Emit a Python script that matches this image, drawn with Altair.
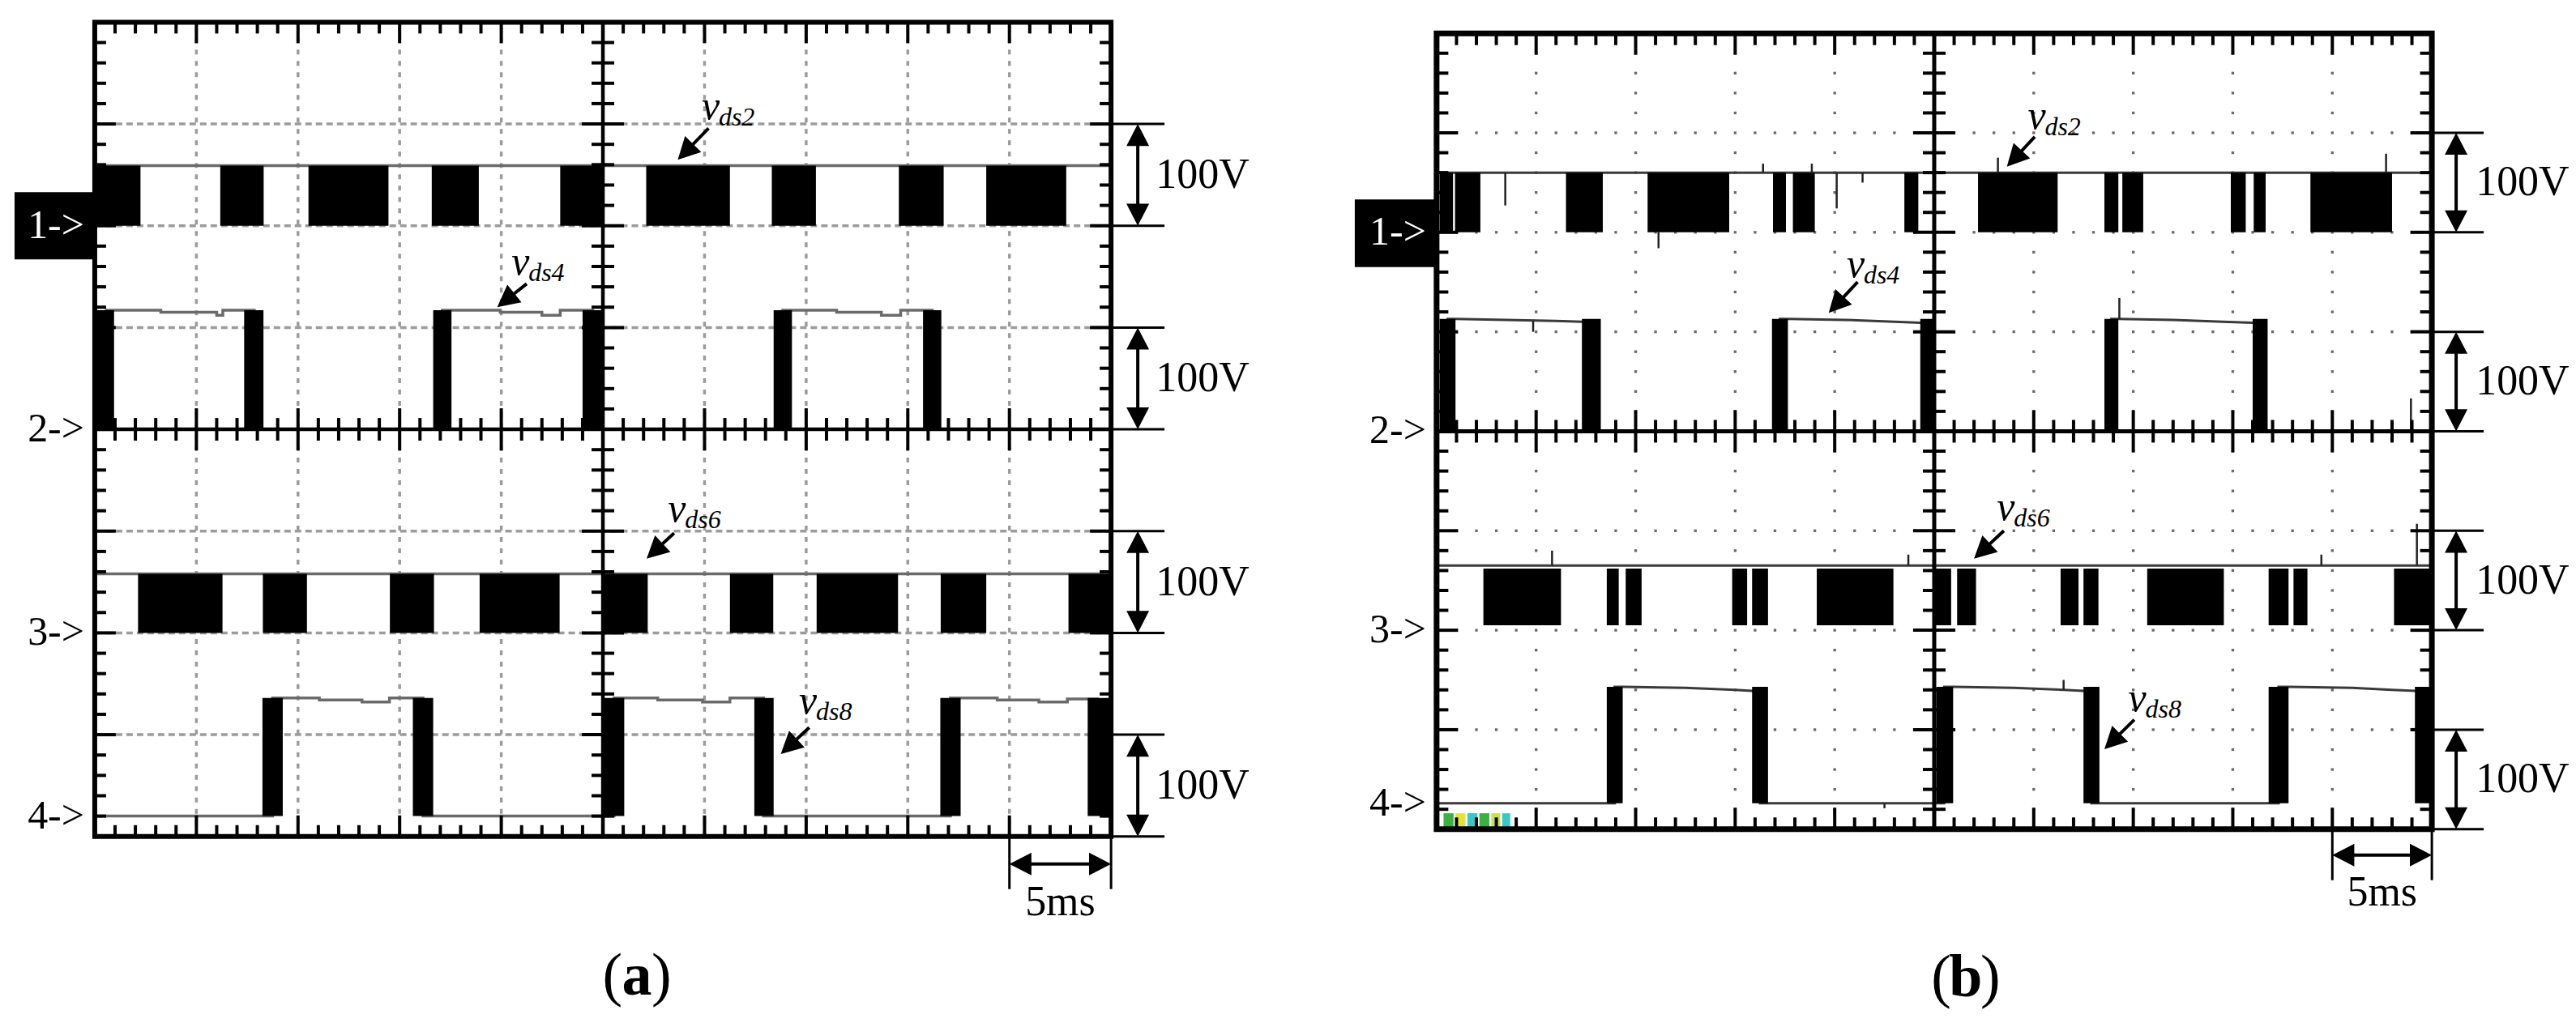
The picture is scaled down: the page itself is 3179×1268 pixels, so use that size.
import math
import altair as alt
import pandas as pd

FONT = "Liberation Serif"
ARROW_HEAD = "M0,0L-0.8,1.55L0.8,1.55Z"   # custom symbol, tip on the anchor point

# ---------------- common screen content (divisions: 5 ms/div, 100 V/div) ----------------
BRACKETS = [(6, 7), (4, 5), (2, 3), (0, 1)]
CH_NAMES = ["1->", "2->", "3->", "4->"]
VOLT_TEXT = "100V"
TIME_TEXT = "5ms"
TAG_SUBS = ["ds2", "ds4", "ds6", "ds8"]

# ---------------- panel (a): simulation ----------------
A_GROUND = [6.0, 4.0, 2.0, 0.2]
A_CH1_LOW, A_CH1_HIGH = 6.0, 6.59
A_CH1_BLOCKS = [(0.00, 0.45), (1.235, 1.662), (2.103, 2.89), (3.316, 3.779), (4.58, 5.007),
                (5.426, 6.25), (6.662, 7.096), (7.912, 8.353), (8.772, 9.559)]
A_CH3_LOW, A_CH3_HIGH = 2.0, 2.58
A_CH3_BLOCKS = [(0.426, 1.257), (1.654, 2.088), (2.904, 3.338), (3.787, 4.574), (5.007, 5.441),
                (6.25, 6.676), (7.103, 7.904), (8.324, 8.772), (9.581, 10.0)]
A_CH2_LOW, A_CH2_HIGH = 4.0, 5.17
A_CH2_BARS = [(0.0, 0.19), (1.47, 1.66), (3.33, 3.51), (4.80, 4.99), (6.68, 6.86), (8.15, 8.33)]
A_CH2_X = [0.1, 0.65, 0.65, 1.20, 1.20, 1.26, 1.26, 1.57, 1.57, 3.42, 3.42, 3.99, 3.99, 4.40, 4.40,
           4.58, 4.58, 4.90, 4.90, 6.77, 6.77, 7.30, 7.30, 7.74, 7.74, 7.93, 7.93, 8.24, 8.24, 10.0]
A_CH2_Y = [5.17, 5.17, 5.15, 5.15, 5.12, 5.12, 5.17, 5.17, 4.0, 4.0, 5.17, 5.17, 5.15, 5.15, 5.12,
           5.12, 5.17, 5.17, 4.0, 4.0, 5.17, 5.17, 5.15, 5.15, 5.12, 5.12, 5.17, 5.17, 4.0, 4.0]
A_CH4_LOW, A_CH4_HIGH = 0.2, 1.36
A_CH4_BARS = [(1.65, 1.85), (3.13, 3.33), (5.01, 5.21), (6.49, 6.68), (8.32, 8.52), (9.77, 10.0)]
A_CH4_X = [0.0, 1.75, 1.75, 2.21, 2.21, 2.63, 2.63, 2.90, 2.90, 3.23, 3.23, 5.11, 5.11, 5.54, 5.54,
           5.98, 5.98, 6.25, 6.25, 6.58, 6.58, 8.42, 8.42, 8.88, 8.88, 9.29, 9.29, 9.57, 9.57, 9.88]
A_CH4_Y = [0.2, 0.2, 1.36, 1.36, 1.34, 1.34, 1.32, 1.32, 1.36, 1.36, 0.2, 0.2, 1.36, 1.36, 1.34,
           1.34, 1.32, 1.32, 1.36, 1.36, 0.2, 0.2, 1.36, 1.36, 1.34, 1.34, 1.32, 1.32, 1.35, 1.35]
A_TAG_POS = [(5.972, 7.046), (4.10, 5.52), (5.64, 3.09), (6.93, 1.21)]
A_POINTERS = [(6.04, 6.958, 5.737, 6.648), (4.25, 5.43, 3.96, 5.20),
              (5.70, 2.98, 5.43, 2.73), (7.03, 1.07, 6.75, 0.81)]

# ---------------- panel (b): experiment ----------------
B_GROUND = [6.0, 4.0, 2.0, 0.26]
B_CH1_LOW, B_CH1_HIGH = 6.0, 6.60
B_CH1_BLOCKS = [(0.03, 0.165), (0.185, 0.44), (1.30, 1.67), (2.12, 2.94), (3.38, 3.51), (3.58, 3.80),
                (4.70, 4.84), (5.44, 6.24), (6.71, 6.85), (6.89, 7.10), (7.98, 8.13), (8.21, 8.33),
                (8.78, 9.60)]
B_CH1_SPIKES = [(0.69, 6.60, 6.27), (2.23, 6.0, 5.84), (3.28, 6.60, 6.69), (3.77, 6.60, 6.69),
                (4.02, 6.60, 6.24), (4.28, 6.60, 6.50), (5.64, 6.60, 6.75), (9.54, 6.60, 6.79)]
B_CH3_LOW, B_CH3_HIGH, B_CH3_TOP = 2.05, 2.65, 2.62
B_CH3_BLOCKS = [(0.47, 1.25), (1.71, 1.83), (1.90, 2.06), (2.97, 3.12), (3.17, 3.33), (3.82, 4.59),
                (5.00, 5.17), (5.23, 5.42), (6.27, 6.45), (6.50, 6.65), (7.14, 7.91), (8.36, 8.56),
                (8.61, 8.75), (9.62, 10.0)]
B_CH3_SPIKES = [(1.16, 2.65, 2.80), (4.74, 2.65, 2.76), (8.89, 2.65, 2.76), (9.85, 2.65, 3.07)]
B_CH2_LOW, B_CH2_HIGH = 4.0, 5.13
B_CH2_BARS = [(0.03, 0.19), (1.46, 1.65), (3.37, 3.53), (4.86, 5.0), (6.71, 6.85), (8.20, 8.35)]
B_CH2_X = [0.1, 0.19, 0.7, 1.2, 1.46, 1.55, 1.55, 3.45, 3.45, 3.53, 4.1, 4.6, 4.86, 4.93, 4.93,
           6.78, 6.78, 6.85, 7.4, 7.9, 8.20, 8.27, 8.27, 10.0]
B_CH2_Y = [5.13, 5.13, 5.12, 5.11, 5.10, 5.10, 4.0, 4.0, 5.13, 5.13, 5.12, 5.10, 5.09, 5.09, 4.0,
           4.0, 5.13, 5.13, 5.12, 5.10, 5.09, 5.09, 4.0, 4.0]
B_CH2_SPIKES = [(0.97, 5.11, 5.0), (6.86, 5.13, 5.34), (9.79, 4.0, 4.33)]
B_CH4_LOW, B_CH4_HIGH = 0.26, 1.43
B_CH4_BARS = [(1.71, 1.87), (3.17, 3.33), (5.02, 5.19), (6.50, 6.66), (8.36, 8.56), (9.83, 10.0)]
B_CH4_X = [0.0, 1.79, 1.79, 1.87, 2.5, 3.0, 3.17, 3.25, 3.25, 5.10, 5.10, 5.19, 5.8, 6.3, 6.50,
           6.58, 6.58, 8.46, 8.46, 8.56, 9.2, 9.6, 9.83, 9.9]
B_CH4_Y = [0.26, 0.26, 1.43, 1.43, 1.42, 1.40, 1.39, 1.39, 0.26, 0.26, 1.43, 1.43, 1.42, 1.40, 1.39,
           1.39, 0.26, 0.26, 1.43, 1.43, 1.42, 1.40, 1.39, 1.39]
B_CH4_SPIKES = [(6.30, 1.40, 1.50), (4.50, 0.26, 0.21)]
B_OSD = [(0.07, 0.17, "#3cb043"), (0.19, 0.29, "#e3e33a"), (0.31, 0.41, "#3cc7c7"),
         (0.43, 0.53, "#3cb043"), (0.55, 0.64, "#c9e04a"), (0.66, 0.74, "#3cc7c7")]
B_OSD_Y = (0.02, 0.16)
B_TAG_POS = [(5.94, 7.04), (4.12, 5.55), (5.63, 3.11), (6.95, 1.185)]
B_POINTERS = [(6.01, 6.96, 5.73, 6.66), (4.23, 5.50, 3.94, 5.19),
              (5.70, 3.00, 5.40, 2.72), (7.01, 1.10, 6.71, 0.805)]

# ---------------- page geometry (pixels) ----------------
GEOM_A = dict(ox=117, oy=1033, ppx=125.5, ppy=125.75, left=8, width=1560, top=8, height=1252,
              frame_w=6, center_w=4.5, tick_w=4, line_c="#6a6a6a", line_w=3.5,
              box=(-0.789, 5.67, 6.33), label="a", label_pos=(5.335, -1.553),
              t5_tick=65, t5_arrow=34, t5_text=97, br_len=66, br_arrow=33)
GEOM_B = dict(ox=1774, oy=1024, ppx=122.9, ppy=122.9, left=1568, width=1603, top=8, height=1252,
              frame_w=7, center_w=5, tick_w=4, line_c="#3a3a3a", line_w=3,
              box=(-0.822, 5.65, 6.33), label="b", label_pos=(5.317, -1.676),
              t5_tick=63, t5_arrow=32, t5_text=94, br_len=64, br_arrow=30)


def panel(g, d):
    xdom = [(g["left"] - g["ox"]) / g["ppx"], (g["left"] + g["width"] - g["ox"]) / g["ppx"]]
    ydom = [(g["oy"] - (g["top"] + g["height"])) / g["ppy"], (g["oy"] - g["top"]) / g["ppy"]]
    xs = alt.Scale(domain=xdom, nice=False, zero=False)
    ys = alt.Scale(domain=ydom, nice=False, zero=False)
    X = lambda f="x": alt.X(f"{f}:Q", scale=xs, axis=None)
    Y = lambda f="y": alt.Y(f"{f}:Q", scale=ys, axis=None)
    px, py = g["ppx"], g["ppy"]
    layers = []

    # --- graticule ---
    if d["grid"] == "dash":
        v = pd.DataFrame([dict(x=k, x2=k, y=0, y2=8) for k in range(1, 10) if k != 5])
        h = pd.DataFrame([dict(x=0, x2=10, y=k, y2=k) for k in range(1, 8) if k != 4])
        for df, dash in ((v, [6, 8]), (h, [8, 5])):
            layers.append(alt.Chart(df).mark_rule(color="#9c9c9c", strokeWidth=3.5, strokeDash=dash)
                          .encode(x=X(), x2=alt.X2("x2"), y=Y(), y2=alt.Y2("y2")))
    else:
        pts = [dict(x=k, y=j / 5) for k in range(1, 10) if k != 5 for j in range(1, 40)]
        pts += [dict(x=j / 5, y=k) for k in range(1, 8) if k != 4 for j in range(1, 50) if j % 5]
        layers.append(alt.Chart(pd.DataFrame(pts)).mark_square(size=11, color="#6a6a6a", opacity=1)
                      .encode(x=X(), y=Y()))

    # --- on-screen-display patch ---
    if d.get("osd"):
        df = pd.DataFrame([dict(x=a, x2=b, y=d["osd_y"][0], y2=d["osd_y"][1], c=c) for a, b, c in d["osd"]])
        layers.append(alt.Chart(df).mark_rect()
                      .encode(x=X(), x2=alt.X2("x2"), y=Y(), y2=alt.Y2("y2"),
                              color=alt.Color("c:N", scale=None)))

    # --- traces: thin lines ---
    rows = []
    for gi, (xs_, ys_) in enumerate(d["lines"]):
        for i, (xv, yv) in enumerate(zip(xs_, ys_)):
            rows.append(dict(x=xv, y=yv, g=gi, i=i))
    layers.append(alt.Chart(pd.DataFrame(rows)).mark_line(color=g["line_c"], strokeWidth=g["line_w"])
                  .encode(x=X(), y=Y(), detail="g:N", order="i:Q"))

    # --- traces: black blocks / transition bars ---
    rows = []
    for blocks, lo, hi in d["blocks"]:
        rows += [dict(x=a, x2=b, y=lo, y2=hi) for a, b in blocks]
    layers.append(alt.Chart(pd.DataFrame(rows)).mark_rect(color="black")
                  .encode(x=X(), x2=alt.X2("x2"), y=Y(), y2=alt.Y2("y2")))

    # --- spikes ---
    if d.get("spikes"):
        df = pd.DataFrame([dict(x=a, x2=a, y=b, y2=c) for a, b, c in d["spikes"]])
        layers.append(alt.Chart(df).mark_rule(color="#222222", strokeWidth=2.5)
                      .encode(x=X(), x2=alt.X2("x2"), y=Y(), y2=alt.Y2("y2")))

    # --- frame ---
    layers.append(alt.Chart(pd.DataFrame([dict(x=0, x2=10, y=0, y2=8)]))
                  .mark_rect(fillOpacity=0, stroke="black", strokeWidth=g["frame_w"])
                  .encode(x=X(), x2=alt.X2("x2"), y=Y(), y2=alt.Y2("y2")))

    # --- black rules: centre lines, ticks, brackets, arrow shafts ---
    R = []
    R += [dict(x=5, x2=5, y=0, y2=8, w=g["center_w"]), dict(x=0, x2=10, y=4, y2=4, w=g["center_w"])]
    fw = g["frame_w"] / 2
    tw = g["tick_w"]
    for k in range(1, 50):
        xv = k / 5
        L = ((23 if k % 5 == 0 else 11) + fw) / py
        l = (26 if k % 5 == 0 else 14) / py
        R += [dict(x=xv, x2=xv, y=8, y2=8 - L, w=tw), dict(x=xv, x2=xv, y=0, y2=L, w=tw),
              dict(x=xv, x2=xv, y=4 - l, y2=4 + l, w=tw)]
    for k in range(1, 40):
        yv = k / 5
        L = ((23 if k % 5 == 0 else 11) + fw) / px
        l = (26 if k % 5 == 0 else 14) / px
        R += [dict(x=0, x2=L, y=yv, y2=yv, w=tw), dict(x=10, x2=10 - L, y=yv, y2=yv, w=tw),
              dict(x=5 - l, x2=5 + l, y=yv, y2=yv, w=tw)]
    heads = []
    head_px = 22
    xa = 10 + g["br_arrow"] / px
    for lo, hi in BRACKETS:
        R += [dict(x=10, x2=10 + g["br_len"] / px, y=lo, y2=lo, w=3),
              dict(x=10, x2=10 + g["br_len"] / px, y=hi, y2=hi, w=3),
              dict(x=xa, x2=xa, y=lo + head_px / py, y2=hi - head_px / py, w=4)]
        heads += [dict(x=xa, y=hi, a=0), dict(x=xa, y=lo, a=180)]
    yt = -g["t5_arrow"] / py
    R += [dict(x=9, x2=9, y=0, y2=-g["t5_tick"] / py, w=3),
          dict(x=10, x2=10, y=0, y2=-g["t5_tick"] / py, w=3),
          dict(x=9 + head_px / px, x2=10 - head_px / px, y=yt, y2=yt, w=4)]
    heads += [dict(x=9, y=yt, a=270), dict(x=10, y=yt, a=90)]
    for tx, ty, hx, hy in d["pointers"]:
        dxp, dyp = (hx - tx) * px, (hy - ty) * py
        n = math.hypot(dxp, dyp)
        ex, ey = hx - dxp / n * 14 / px, hy - dyp / n * 14 / py
        R.append(dict(x=tx, x2=ex, y=ty, y2=ey, w=4))
        heads.append(dict(x=hx, y=hy, a=math.degrees(math.atan2(dxp, dyp)) % 360))
    layers.append(alt.Chart(pd.DataFrame(R)).mark_rule(color="black")
                  .encode(x=X(), x2=alt.X2("x2"), y=Y(), y2=alt.Y2("y2"),
                          strokeWidth=alt.StrokeWidth("w:Q", scale=None)))
    layers.append(alt.Chart(pd.DataFrame(heads))
                  .mark_point(shape=ARROW_HEAD, filled=True, size=1225, color="black", opacity=1, strokeWidth=0)
                  .encode(x=X(), y=Y(), angle=alt.Angle("a:Q", scale=None)))

    # --- channel-1 marker box ---
    bx, by0, by1 = g["box"]
    layers.append(alt.Chart(pd.DataFrame([dict(x=bx, x2=0, y=by0, y2=by1)])).mark_rect(color="black")
                  .encode(x=X(), x2=alt.X2("x2"), y=Y(), y2=alt.Y2("y2")))

    # --- texts ---
    def text_layer(rows, **kw):
        base = dict(font=FONT, color="black")
        base.update(kw)
        return (alt.Chart(pd.DataFrame(rows)).mark_text(**base)
                .encode(x=X(), y=Y(), text="t:N"))

    ch = [dict(x=0, y=gy, t=n, c=("white" if i == 0 else "black"))
          for i, (n, gy) in enumerate(zip(CH_NAMES, d["ground"]))]
    layers.append(alt.Chart(pd.DataFrame(ch))
                  .mark_text(font=FONT, fontSize=50, align="right", baseline="middle", dx=-13)
                  .encode(x=X(), y=Y(), text="t:N", color=alt.Color("c:N", scale=None)))
    layers.append(text_layer([dict(x=10.44, y=(lo + hi) / 2, t=VOLT_TEXT) for lo, hi in BRACKETS],
                             fontSize=52, align="left", baseline="middle"))
    layers.append(text_layer([dict(x=9.5, y=-g["t5_text"] / py, t=TIME_TEXT)],
                             fontSize=52, align="center", baseline="alphabetic"))
    layers.append(text_layer([dict(x=a, y=b, t="v") for a, b in d["tags"]],
                             fontSize=50, fontStyle="italic", align="left", baseline="alphabetic"))
    layers.append(text_layer([dict(x=a, y=b, t=s) for (a, b), s in zip(d["tags"], TAG_SUBS)],
                             fontSize=32, fontStyle="italic", align="left", baseline="alphabetic",
                             dx=21, dy=8))
    lx, ly = g["label_pos"]
    layers.append(text_layer([dict(x=lx, y=ly, t="(")], fontSize=74, align="right",
                             baseline="alphabetic", dx=-18))
    layers.append(text_layer([dict(x=lx, y=ly, t=g["label"])], fontSize=74, fontWeight="bold",
                             align="center", baseline="alphabetic"))
    layers.append(text_layer([dict(x=lx, y=ly, t=")")], fontSize=74, align="left",
                             baseline="alphabetic", dx=18))

    return alt.layer(*layers).properties(width=g["width"], height=g["height"])


DATA_A = dict(
    grid="dash",
    ground=A_GROUND,
    lines=[([0.0, 10.0], [A_CH1_HIGH, A_CH1_HIGH]), (A_CH2_X, A_CH2_Y),
           ([0.0, 10.0], [A_CH3_HIGH, A_CH3_HIGH]), (A_CH4_X, A_CH4_Y)],
    blocks=[(A_CH1_BLOCKS, A_CH1_LOW, A_CH1_HIGH), (A_CH2_BARS, A_CH2_LOW, A_CH2_HIGH),
            (A_CH3_BLOCKS, A_CH3_LOW, A_CH3_HIGH), (A_CH4_BARS, A_CH4_LOW, A_CH4_HIGH)],
    spikes=[],
    tags=A_TAG_POS,
    pointers=A_POINTERS,
)
DATA_B = dict(
    grid="dots",
    ground=B_GROUND,
    lines=[([0.0, 10.0], [B_CH1_HIGH, B_CH1_HIGH]), (B_CH2_X, B_CH2_Y),
           ([0.0, 10.0], [B_CH3_HIGH, B_CH3_HIGH]), (B_CH4_X, B_CH4_Y)],
    blocks=[(B_CH1_BLOCKS, B_CH1_LOW, B_CH1_HIGH), (B_CH2_BARS, B_CH2_LOW, B_CH2_HIGH),
            (B_CH3_BLOCKS, B_CH3_LOW, B_CH3_TOP), (B_CH4_BARS, B_CH4_LOW, B_CH4_HIGH)],
    spikes=B_CH1_SPIKES + B_CH2_SPIKES + B_CH3_SPIKES + B_CH4_SPIKES,
    osd=B_OSD, osd_y=B_OSD_Y,
    tags=B_TAG_POS,
    pointers=B_POINTERS,
)

chart = (alt.hconcat(panel(GEOM_A, DATA_A), panel(GEOM_B, DATA_B), spacing=0, bounds="flush")
         .properties(padding=0, background="white")
         .configure_view(stroke=None))

chart.save("out.html", embed_options={"renderer": "svg", "actions": False})
